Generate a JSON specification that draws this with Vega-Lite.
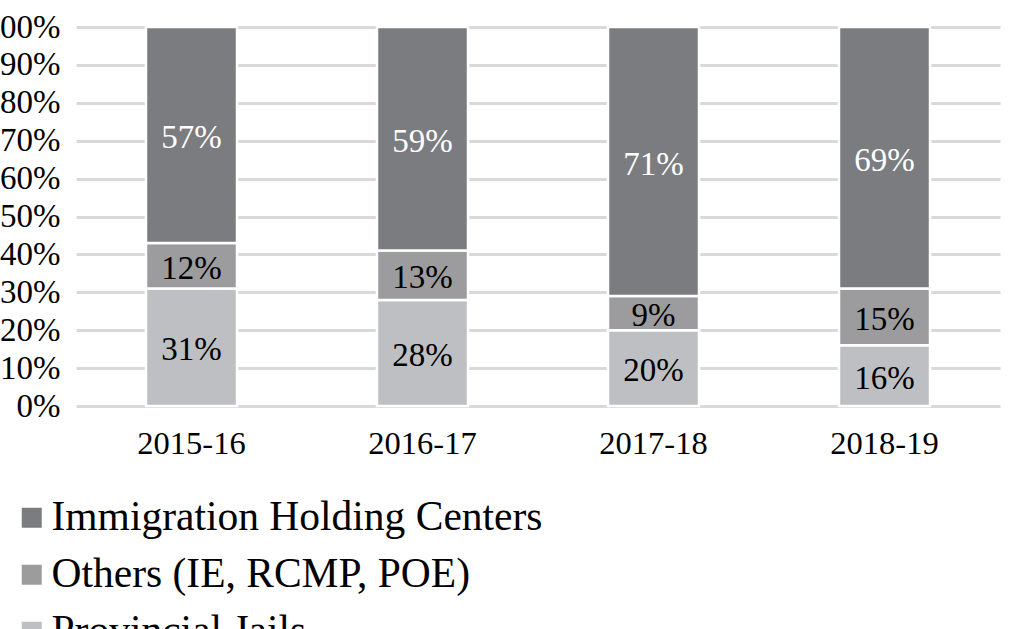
{
  "$schema": "https://vega.github.io/schema/vega-lite/v6.json",
  "autosize": {"type": "none"},
  "width": 924,
  "height": 379,
  "padding": {"left": 76, "top": 27, "right": 12, "bottom": 223},
  "background": "white",
  "config": {
    "font": "Liberation Serif",
    "view": {"stroke": null}
  },
  "data": {
    "values": [
      {"year": "2015-16", "category": "Provincial Jails", "order": 1, "share": 0.31},
      {"year": "2015-16", "category": "Others (IE, RCMP, POE)", "order": 2, "share": 0.12},
      {"year": "2015-16", "category": "Immigration Holding Centers", "order": 3, "share": 0.57},
      {"year": "2016-17", "category": "Provincial Jails", "order": 1, "share": 0.28},
      {"year": "2016-17", "category": "Others (IE, RCMP, POE)", "order": 2, "share": 0.13},
      {"year": "2016-17", "category": "Immigration Holding Centers", "order": 3, "share": 0.59},
      {"year": "2017-18", "category": "Provincial Jails", "order": 1, "share": 0.20},
      {"year": "2017-18", "category": "Others (IE, RCMP, POE)", "order": 2, "share": 0.09},
      {"year": "2017-18", "category": "Immigration Holding Centers", "order": 3, "share": 0.71},
      {"year": "2018-19", "category": "Provincial Jails", "order": 1, "share": 0.16},
      {"year": "2018-19", "category": "Others (IE, RCMP, POE)", "order": 2, "share": 0.15},
      {"year": "2018-19", "category": "Immigration Holding Centers", "order": 3, "share": 0.69}
    ]
  },
  "encoding": {
    "x": {
      "field": "year",
      "type": "nominal",
      "scale": {"paddingInner": 0.606, "paddingOuter": 0.303},
      "axis": {
        "title": null,
        "labelAngle": 0,
        "labelFontSize": 32.5,
        "labelColor": "black",
        "labelPadding": 21,
        "ticks": false,
        "domain": false,
        "grid": false
      }
    },
    "y": {
      "field": "share",
      "type": "quantitative",
      "stack": "zero",
      "scale": {"domain": [0, 1], "nice": false},
      "axis": {
        "title": null,
        "values": [0, 0.1, 0.2, 0.3, 0.4, 0.5, 0.6, 0.7, 0.8, 0.9, 1],
        "format": ".0%",
        "labelFontSize": 33,
        "labelColor": "black",
        "labelPadding": 16,
        "ticks": false,
        "domain": false,
        "grid": true,
        "gridColor": "#d9d9d9",
        "gridWidth": 3
      }
    },
    "order": {"field": "order", "type": "quantitative"}
  },
  "layer": [
    {
      "mark": {"type": "bar", "stroke": "white", "strokeWidth": 2.5},
      "encoding": {
        "color": {
          "field": "category",
          "type": "nominal",
          "sort": ["Immigration Holding Centers", "Others (IE, RCMP, POE)", "Provincial Jails"],
          "scale": {
            "domain": ["Immigration Holding Centers", "Others (IE, RCMP, POE)", "Provincial Jails"],
            "range": ["#7b7c80", "#9c9c9e", "#bebfc2"]
          },
          "legend": {
            "title": null,
            "orient": "none",
            "legendX": -65,
            "legendY": 470,
            "direction": "vertical",
            "symbolType": "square",
            "symbolSize": 400,
            "symbolStrokeWidth": 0,
            "symbolOpacity": 1,
            "labelFontSize": 41.5,
            "labelColor": "black",
            "labelOffset": -1,
            "labelLimit": 0,
            "rowPadding": 14,
            "padding": 0
          }
        }
      }
    },
    {
      "mark": {"type": "text", "fontSize": 33, "baseline": "middle", "align": "center", "dy": 3},
      "encoding": {
        "y": {"field": "share", "type": "quantitative", "stack": "zero", "bandPosition": 0.5},
        "text": {"field": "share", "type": "quantitative", "format": ".0%"},
        "color": {
          "condition": {"test": "datum.category === 'Immigration Holding Centers'", "value": "white"},
          "value": "black"
        }
      }
    }
  ]
}
